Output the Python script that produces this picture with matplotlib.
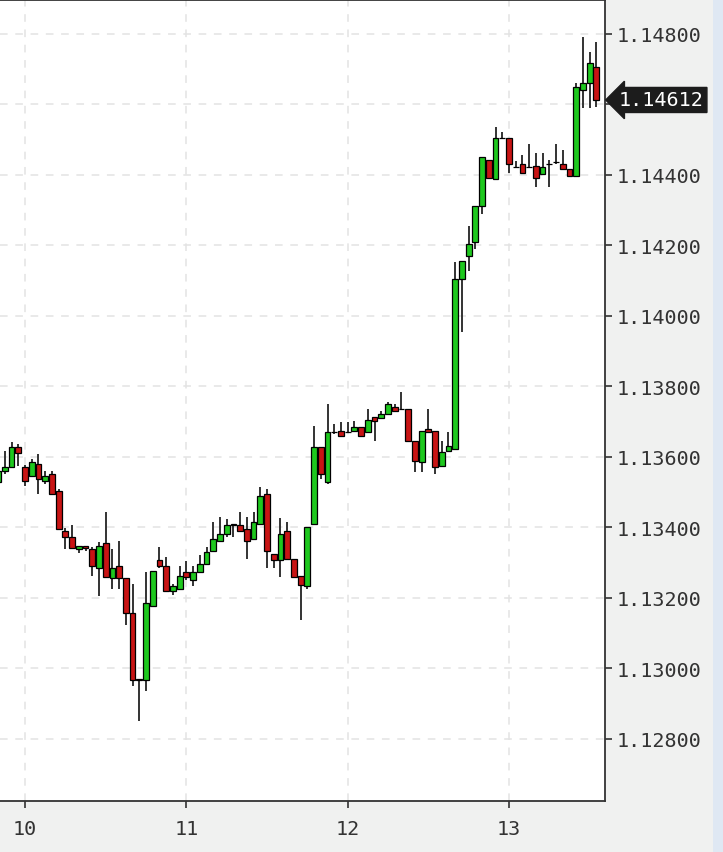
import matplotlib.pyplot as plt
import matplotlib.patches as mpatches
import numpy as np

# hourly candles, first one starts 20:00 on day 9
start_day = 9 + 20 / 24
n_hours = 90

opens = [1.13529, 1.13560, 1.13572, 1.13628, 1.13572, 1.13546, 1.13580, 1.13532, 1.13552, 1.13504,
         1.13388, 1.13371, 1.13337, 1.13348, 1.13339, 1.13283, 1.13354, 1.13255, 1.13289, 1.13255,
         1.13156, 1.12969, 1.12966, 1.13178, 1.13306, 1.13289, 1.13218, 1.13226, 1.13274, 1.13249,
         1.13274, 1.13297, 1.13334, 1.13362, 1.13382, 1.13410, 1.13405, 1.13396, 1.13368, 1.13410,
         1.13495, 1.13325, 1.13306, 1.13388, 1.13311, 1.13263, 1.13232, 1.13410, 1.13628, 1.13529,
         1.13671, 1.13673, 1.13671, 1.13673, 1.13685, 1.13671, 1.13713, 1.13710, 1.13722, 1.13741,
         1.13736, 1.13736, 1.13645, 1.13586, 1.13679, 1.13673, 1.13574, 1.13617, 1.13622, 1.14104,
         1.14169, 1.14208, 1.14310, 1.14443, 1.14389, 1.14505, 1.14505, 1.14423, 1.14429, 1.14423,
         1.14426, 1.14401, 1.14429, 1.14435, 1.14429, 1.14415, 1.14395, 1.14641, 1.14661, 1.14706]
highs = [1.13572, 1.13617, 1.13642, 1.13637, 1.13577, 1.13594, 1.13608, 1.13560, 1.13560, 1.13509,
         1.13399, 1.13405, 1.13348, 1.13348, 1.13345, 1.13359, 1.13444, 1.13339, 1.13362, 1.13255,
         1.13240, 1.12969, 1.13274, 1.13277, 1.13345, 1.13317, 1.13240, 1.13291, 1.13303, 1.13289,
         1.13320, 1.13345, 1.13416, 1.13430, 1.13424, 1.13410, 1.13444, 1.13430, 1.13444, 1.13515,
         1.13509, 1.13325, 1.13427, 1.13416, 1.13311, 1.13263, 1.13402, 1.13688, 1.13628, 1.13750,
         1.13693, 1.13699, 1.13699, 1.13702, 1.13685, 1.13736, 1.13713, 1.13730, 1.13756, 1.13750,
         1.13784, 1.13736, 1.13645, 1.13673, 1.13736, 1.13673, 1.13645, 1.13671, 1.14152, 1.14155,
         1.14254, 1.14310, 1.14449, 1.14443, 1.14534, 1.14520, 1.14505, 1.14438, 1.14457, 1.14486,
         1.14463, 1.14463, 1.14443, 1.14486, 1.14471, 1.14415, 1.14661, 1.14791, 1.14749, 1.14777]
lows = [1.13509, 1.13552, 1.13572, 1.13574, 1.13518, 1.13546, 1.13495, 1.13523, 1.13495, 1.13396,
        1.13339, 1.13342, 1.13328, 1.13334, 1.13263, 1.13204, 1.13260, 1.13226, 1.13226, 1.13122,
        1.12949, 1.12850, 1.12935, 1.13178, 1.13283, 1.13218, 1.13209, 1.13226, 1.13249, 1.13232,
        1.13274, 1.13297, 1.13334, 1.13362, 1.13373, 1.13373, 1.13388, 1.13311, 1.13368, 1.13410,
        1.13283, 1.13283, 1.13260, 1.13311, 1.13260, 1.13136, 1.13226, 1.13410, 1.13538, 1.13523,
        1.13665, 1.13659, 1.13668, 1.13673, 1.13659, 1.13671, 1.13645, 1.13710, 1.13722, 1.13730,
        1.13736, 1.13645, 1.13557, 1.13557, 1.13671, 1.13552, 1.13574, 1.13617, 1.13622, 1.13954,
        1.14126, 1.14188, 1.14288, 1.14392, 1.14389, 1.14500, 1.14406, 1.14423, 1.14406, 1.14421,
        1.14364, 1.14401, 1.14364, 1.14429, 1.14415, 1.14395, 1.14395, 1.14590, 1.14590, 1.14593]
closes = [1.13560, 1.13572, 1.13628, 1.13611, 1.13532, 1.13586, 1.13538, 1.13546, 1.13495, 1.13396,
          1.13373, 1.13342, 1.13348, 1.13342, 1.13289, 1.13348, 1.13260, 1.13283, 1.13255, 1.13156,
          1.12966, 1.12966, 1.13184, 1.13277, 1.13289, 1.13218, 1.13232, 1.13263, 1.13260, 1.13274,
          1.13297, 1.13331, 1.13368, 1.13382, 1.13407, 1.13407, 1.13388, 1.13362, 1.13416, 1.13489,
          1.13334, 1.13306, 1.13382, 1.13311, 1.13260, 1.13235, 1.13402, 1.13628, 1.13552, 1.13671,
          1.13671, 1.13659, 1.13671, 1.13685, 1.13659, 1.13705, 1.13702, 1.13722, 1.13750, 1.13730,
          1.13736, 1.13645, 1.13589, 1.13673, 1.13671, 1.13572, 1.13614, 1.13631, 1.14104, 1.14155,
          1.14203, 1.14310, 1.14449, 1.14392, 1.14503, 1.14505, 1.14429, 1.14423, 1.14406, 1.14423,
          1.14392, 1.14423, 1.14429, 1.14435, 1.14415, 1.14395, 1.14650, 1.14661, 1.14718, 1.14612]

price_ticks = [1.128, 1.130, 1.132, 1.134, 1.136, 1.138, 1.140, 1.142, 1.144, 1.146, 1.148]
day_ticks = [10, 11, 12, 13]
last_price = closes[-1]

t = start_day + np.arange(n_hours) / 24
o = np.array(opens)
h = np.array(highs)
l = np.array(lows)
c = np.array(closes)

fig = plt.figure(figsize=(7.23, 8.53), dpi=100)
fig.patch.set_facecolor('#f0f1f0')
ax = fig.add_axes([0.0, 0.06, 0.837, 0.939])
ax.set_facecolor('white')

# light blue strip on the far right
fig.patches.append(mpatches.Rectangle((0.986, 0), 0.014, 1, transform=fig.transFigure,
                                      facecolor='#dfe8f3', edgecolor='none', zorder=0))

up = c >= o
colors = np.where(up, '#1ec81e', '#c81414')
w = 0.86 / 24

ax.vlines(t, l, h, color='#333333', linewidth=1.4, zorder=2)
ax.bar(t, np.abs(c - o), bottom=np.minimum(o, c), width=w, color=colors,
       edgecolor='black', linewidth=0.9, zorder=3)

ax.set_xlim(9.845, 13.596)
ax.set_ylim(1.12624, 1.14896)

ax.set_xticks(day_ticks)
ax.set_xticklabels([str(d) for d in day_ticks])
ax.set_yticks(price_ticks)
# the 1.14600 label sits under the last-price marker
ax.set_yticklabels(['' if abs(p - 1.146) < 1e-9 else '%.5f' % p for p in price_ticks])
ax.yaxis.tick_right()

ax.grid(True, color='#e3e3e3', linestyle=(0, (5, 5)), linewidth=1.1, zorder=0)
ax.set_axisbelow(True)

ax.spines['left'].set_visible(False)
for side in ['top', 'right', 'bottom']:
    ax.spines[side].set_color('#333333')
    ax.spines[side].set_linewidth(1.3)

ax.tick_params(axis='both', direction='out', length=5, width=1.2, color='#333333',
               labelcolor='#333333', labelsize=14.5)
ax.tick_params(axis='y', pad=3)
ax.tick_params(axis='x', pad=8)
for lab in ax.get_xticklabels() + ax.get_yticklabels():
    lab.set_family('DejaVu Sans Mono')

# last price marker
ax.annotate('%.5f' % last_price, xy=(1.0, last_price), xycoords=('axes fraction', 'data'),
            xytext=(10, 0), textcoords='offset points', ha='left', va='center',
            color='white', fontsize=14.5, family='DejaVu Sans Mono',
            bbox=dict(boxstyle='larrow,pad=0.15', facecolor='#1c1c1c', edgecolor='#1c1c1c'))

fig.savefig('out.png', dpi=100, facecolor=fig.get_facecolor())
